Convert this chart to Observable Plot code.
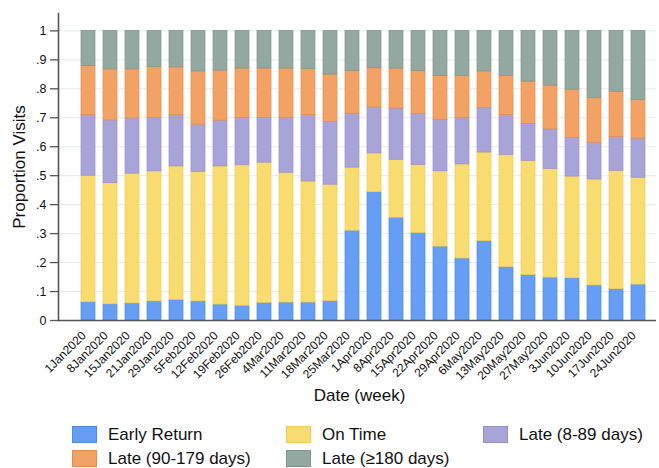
<!DOCTYPE html>
<html>
<head>
<meta charset="utf-8">
<script src="https://cdn.jsdelivr.net/npm/d3@7"></script>
<script src="https://cdn.jsdelivr.net/npm/@observablehq/plot@0.6"></script>
<style>
  html, body { margin: 0; padding: 0; background: #fff; }
  body { width: 659px; height: 468px; overflow: hidden; font-family: "Liberation Sans", Arial, sans-serif; }
  #legend { position: relative; height: 56px; font-size: 17px; color: #111; }
  .item { position: absolute; display: flex; align-items: center; height: 17px; }
  .sw { width: 25px; height: 17px; margin-right: 11px; box-sizing: border-box; }
</style>
</head>
<body>
<div id="chart"></div>
<div id="legend"></div>
<script>
const weeks = ["1Jan2020","8Jan2020","15Jan2020","21Jan2020","29Jan2020","5Feb2020","12Feb2020","19Feb2020","26Feb2020","4Mar2020","11Mar2020","18Mar2020","25Mar2020","1Apr2020","8Apr2020","15Apr2020","22Apr2020","29Apr2020","6May2020","13May2020","20May2020","27May2020","3Jun2020","10Jun2020","17Jun2020","24Jun2020"];

const categories = ["Early Return", "On Time", "Late (8-89 days)", "Late (90-179 days)", "Late (\u2265180 days)"];
const colors = ["#669ef5", "#f9dc70", "#a9a4d8", "#f2a264", "#93a8a0"];
const strokes = ["#4f88e6", "#efcd55", "#9490c9", "#e98c48", "#7e958c"];

const earlyReturn = [.063,.056,.059,.066,.071,.066,.055,.051,.061,.062,.062,.067,.310,.443,.355,.302,.255,.214,.274,.184,.157,.148,.146,.121,.108,.124];
const onTime      = [.437,.418,.448,.449,.461,.447,.477,.485,.484,.448,.418,.402,.218,.134,.200,.235,.260,.325,.306,.388,.394,.375,.351,.366,.409,.369];
const late8_89    = [.210,.217,.191,.185,.177,.163,.158,.163,.154,.190,.229,.217,.186,.159,.177,.176,.178,.161,.154,.138,.127,.137,.133,.127,.117,.135];
const late90_179  = [.169,.176,.169,.175,.165,.184,.173,.171,.171,.170,.159,.163,.148,.135,.138,.149,.151,.144,.126,.134,.147,.151,.167,.155,.156,.133];
const late180     = [.121,.133,.133,.125,.126,.140,.137,.130,.130,.130,.132,.151,.138,.129,.130,.138,.156,.156,.140,.156,.175,.189,.203,.231,.210,.239];

const yTicks = [0, .1, .2, .3, .4, .5, .6, .7, .8, .9, 1];

const series = [earlyReturn, onTime, late8_89, late90_179, late180];
const data = [];
weeks.forEach((w, i) => {
  categories.forEach((c, k) => data.push({week: w, category: c, value: series[k][i]}));
});

const fmt = d => d === 0 ? "0" : d === 1 ? "1" : d3.format(".1f")(d).replace(/^0/, "");

const W = 659, H = 412;
const chart = Plot.plot({
  width: W,
  height: H,
  marginLeft: 58,
  marginRight: 3,
  marginTop: 13,
  marginBottom: 92,
  style: {fontFamily: "'Liberation Sans', Arial, sans-serif", color: "#111", background: "#fff"},
  x: {type: "band", domain: weeks, range: [66.9, 658.1], paddingInner: 0.37, paddingOuter: 0.5, align: 0.5},
  y: {domain: [0, 1.06]},
  color: {domain: categories, range: colors},
  marks: [
    Plot.gridY(yTicks, {stroke: "#e4ebeb", strokeOpacity: 1, strokeWidth: 1}),
    Plot.barY(data, {x: "week", y: "value", fill: "category", order: categories,
      stroke: d => strokes[categories.indexOf(d.category)], strokeWidth: 0.7}),
    Plot.axisY(yTicks, {tickFormat: fmt, tickSize: 8, tickPadding: 4, fontSize: 12.5, label: null, stroke: "#555", strokeWidth: 1.3}),
    Plot.axisX({tickSize: 0, tickRotate: -45, tickPadding: 13, dx: -4.5, fontSize: 12, label: null}),
    Plot.ruleY([0], {stroke: "#555", strokeWidth: 1.6}),
    Plot.frame({anchor: "left", stroke: "#555", strokeWidth: 1.6}),
    Plot.text(["Date (week)"], {frameAnchor: "bottom", dy: 80, dx: 2, fontSize: 17, fill: "#111"}),
    Plot.text(["Proportion Visits"], {frameAnchor: "left", textAnchor: "middle", dx: -39, rotate: -90, fontSize: 17, fill: "#111"})
  ]
});
document.getElementById("chart").appendChild(chart);

// legend (HTML, below the SVG)
const legend = d3.select("#legend");
const pos = [[72, 14], [286, 14], [483, 14], [72, 38], [286, 38]];
categories.forEach((c, k) => {
  const it = legend.append("div").attr("class", "item")
    .style("left", pos[k][0] + "px").style("top", pos[k][1] + "px");
  it.append("div").attr("class", "sw").style("background", colors[k]).style("border", "1px solid " + strokes[k]);
  it.append("span").text(c);
});
</script>
</body>
</html>
